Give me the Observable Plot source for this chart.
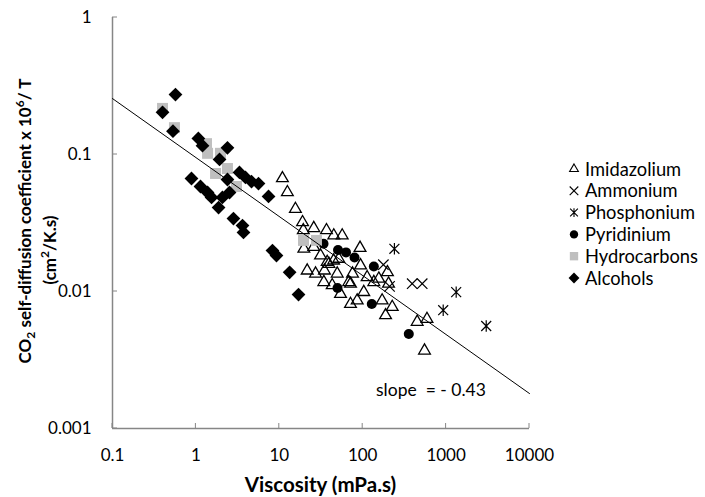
<!DOCTYPE html>
<html><head><meta charset="utf-8">
<script src="https://cdn.jsdelivr.net/npm/d3@7"></script>
<script src="https://cdn.jsdelivr.net/npm/@observablehq/plot@0.6"></script>
<style>body{margin:0;background:#fff;} svg{display:block}</style>
</head><body><div id="chart"></div>
<script>
const xTicks = [0.1, 1, 10, 100, 1000, 10000];
const yTicks = [0.001, 0.01, 0.1, 1];
const seriesNames = ["Imidazolium", "Ammonium", "Phosphonium", "Pyridinium", "Hydrocarbons", "Alcohols"];

const imidazolium = [
  [10.9,0.067],[12.5,0.053],[15.6,0.040],[19.0,0.032],[19.4,0.028],[25.9,0.029],[36.8,0.028],[45,0.0256],[56.8,0.0256],
  [19.7,0.0205],[25.9,0.0211],[31.2,0.0183],[37.5,0.0164],[44.8,0.0168],[92.9,0.0208],[21.6,0.0142],[27.2,0.0135],
  [34.8,0.0142],[49.5,0.0135],[34.2,0.0117],[43.1,0.0111],[54.2,0.0096],[68.1,0.0117],[75.5,0.0135],[94.2,0.0155],
  [113,0.0127],[136,0.0117],[156,0.0124],[198,0.0138],[204,0.0114],[103,0.0099],[71.4,0.0081],[85.9,0.0086],
  [171,0.0086],[188,0.0067],[226,0.0077],[450,0.0060],[590,0.0063],[551,0.0037],[51.7,0.0173],[71.4,0.0114],[39.3,0.0159]
];
const ammonium = [[392,0.0114],[517,0.0114],[177,0.0157],[210,0.0109]];
const phosphonium = [[240,0.0205],[1321,0.0099],[923,0.0073],[3027,0.0056]];
const pyridinium = [[33.9,0.0223],[50.6,0.0201],[63.1,0.0193],[79.8,0.0177],[136,0.0152],[49.9,0.0106],[128.5,0.0081],[357,0.0049]];
const hydrocarbons = [[0.398,0.217],[0.553,0.157],[1.34,0.120],[1.38,0.102],[1.97,0.102],[1.72,0.0727],[2.39,0.079],[3.07,0.0584],[19.5,0.0236],[27.9,0.0236]];
const alcohols = [
  [0.569,0.274],[0.398,0.203],[0.531,0.148],[1.07,0.131],[1.20,0.116],[2.39,0.112],[1.92,0.092],[3.33,0.074],[3.93,0.068],
  [4.64,0.0635],[5.63,0.0614],[2.39,0.0657],[0.885,0.0668],[1.135,0.0584],[1.38,0.0528],[1.54,0.0486],[2.08,0.0486],
  [2.53,0.0528],[1.87,0.041],[2.82,0.0341],[3.62,0.0303],[3.72,0.027],[7.43,0.0494],[8.28,0.0199],[9.25,0.0183],
  [13.3,0.0138],[17.0,0.0095]
];
const trendX = [0.1, 10000];
const trendY = [0.256, 0.0018];
const slopeLabel = "slope  = - 0.43";

const axisColor = "#868686";
const gray = "#bfbfbf";
const font = "Lato, 'Open Sans', sans-serif";

// Excel-style "star" marker: a cross of diagonals with a vertical bar
const excelStar = {
  draw(ctx, size) {
    const r = Math.sqrt(size) * 0.5;
    ctx.moveTo(-r, -r); ctx.lineTo(r, r);
    ctx.moveTo(-r, r); ctx.lineTo(r, -r);
    ctx.moveTo(0, -r * 1.15); ctx.lineTo(0, r * 1.15);
  }
};

const px = d => d[0], py = d => d[1];
const trend = trendX.map((x, i) => ({x, y: trendY[i]}));

const chart = Plot.plot({
  width: 705, height: 497,
  marginLeft: 112, marginRight: 176, marginTop: 17, marginBottom: 69,
  style: {fontFamily: font, fontSize: "17px", color: "#000", background: "#fff", overflow: "visible"},
  x: {type: "log", domain: [0.1, 10000]},
  y: {type: "log", domain: [0.001, 1]},
  marks: [
    Plot.axisX(xTicks, {tickSize: 0, tickPadding: 20, tickFormat: d => String(d), label: null, fontSize: 17}),
    Plot.axisY(yTicks, {tickSize: 0, tickPadding: 21, tickFormat: d => String(d), label: null, fontSize: 17}),
    Plot.ruleX([0.1], {stroke: axisColor, strokeWidth: 1.5}),
    Plot.ruleY([0.001], {stroke: axisColor, strokeWidth: 1.5}),
    Plot.dot(imidazolium, {x: px, y: py, symbol: "triangle2", r: 5.6, fill: "none", stroke: "black", strokeWidth: 1.3}),
    Plot.dot(ammonium, {x: px, y: py, symbol: "times", r: 4.8, stroke: "black", strokeWidth: 1.2}),
    Plot.dot(phosphonium, {x: px, y: py, symbol: excelStar, r: 5.6, fill: "none", stroke: "black", strokeWidth: 1.2}),
    Plot.dot(pyridinium, {x: px, y: py, symbol: "circle", r: 5, fill: "black", stroke: "none"}),
    Plot.dot(hydrocarbons, {x: px, y: py, symbol: "square", r: 6.2, fill: gray, stroke: "none"}),
    Plot.dot(alcohols, {x: px, y: py, symbol: "diamond2", r: 6.2, fill: "black", stroke: "none"}),
    Plot.line(trend, {x: "x", y: "y", stroke: "black", strokeWidth: 1})
  ]
});

const svg = d3.select(chart);
const sx = chart.scale("x"), sy = chart.scale("y");
const x0 = sx.apply(0.1), y0 = sy.apply(0.001);
const tg = svg.append("g").attr("stroke", axisColor).attr("stroke-width", 1);
tg.selectAll(".yt").data(yTicks).join("line")
  .attr("x1", x0).attr("x2", x0 + 5).attr("y1", d => sy.apply(d)).attr("y2", d => sy.apply(d));
tg.selectAll(".xt").data(xTicks).join("line")
  .attr("y1", y0).attr("y2", y0 - 5).attr("x1", d => sx.apply(d)).attr("x2", d => sx.apply(d));

// axis titles
svg.append("text").attr("x", (x0 + sx.apply(10000)) / 2).attr("y", 492)
  .attr("text-anchor", "middle").attr("font-family", font).attr("font-weight", "bold").attr("font-size", 20.5)
  .text("Viscosity (mPa.s)");
const yl = svg.append("text").attr("transform", "translate(31,221) rotate(-90)")
  .attr("text-anchor", "middle").attr("font-family", font).attr("font-weight", "bold").attr("font-size", 17);
yl.append("tspan").text("CO");
yl.append("tspan").attr("font-size", 12).attr("dy", 4).text("2");
yl.append("tspan").attr("dy", -4).text(" self-diffusion coefficient x 10");
yl.append("tspan").attr("font-size", 12).attr("dy", -7).text("6");
yl.append("tspan").attr("dy", 7).text("/ T");
const yl2 = svg.append("text").attr("transform", "translate(56,250) rotate(-90)")
  .attr("text-anchor", "middle").attr("font-family", font).attr("font-weight", "bold").attr("font-size", 17);
yl2.append("tspan").text("(cm");
yl2.append("tspan").attr("font-size", 12).attr("dy", -7).text("2");
yl2.append("tspan").attr("dy", 7).text("/K.s)");

// slope annotation
svg.append("text").attr("x", 376).attr("y", 396).attr("text-anchor", "start")
  .attr("font-family", font).attr("font-size", 17.5)
  .attr("xml:space", "preserve").style("white-space", "pre").text(slopeLabel);

// legend
const legendSym = [
  {type: d3.symbolTriangle2, size: 55, fill: "none", stroke: "black"},
  {type: d3.symbolTimes, size: 50, fill: "none", stroke: "black"},
  {type: excelStar, size: 60, fill: "none", stroke: "black"},
  {type: d3.symbolCircle, size: 55, fill: "black", stroke: "none"},
  {type: d3.symbolSquare, size: 70, fill: gray, stroke: "none"},
  {type: d3.symbolDiamond2, size: 75, fill: "black", stroke: "none"}
];
const lg = svg.append("g").attr("font-family", font).attr("font-size", 18.3).attr("text-anchor", "start");
seriesNames.forEach((name, i) => {
  const cy = 169 + i * 21.8;
  const s = legendSym[i];
  lg.append("path").attr("transform", `translate(574,${cy})`)
    .attr("d", d3.symbol(s.type, s.size)()).attr("fill", s.fill).attr("stroke", s.stroke).attr("stroke-width", 1.1);
  lg.append("text").attr("x", 585).attr("y", cy + 6.5).attr("text-anchor", "start").text(name);
});

document.getElementById("chart").append(chart);
</script>
</body></html>
